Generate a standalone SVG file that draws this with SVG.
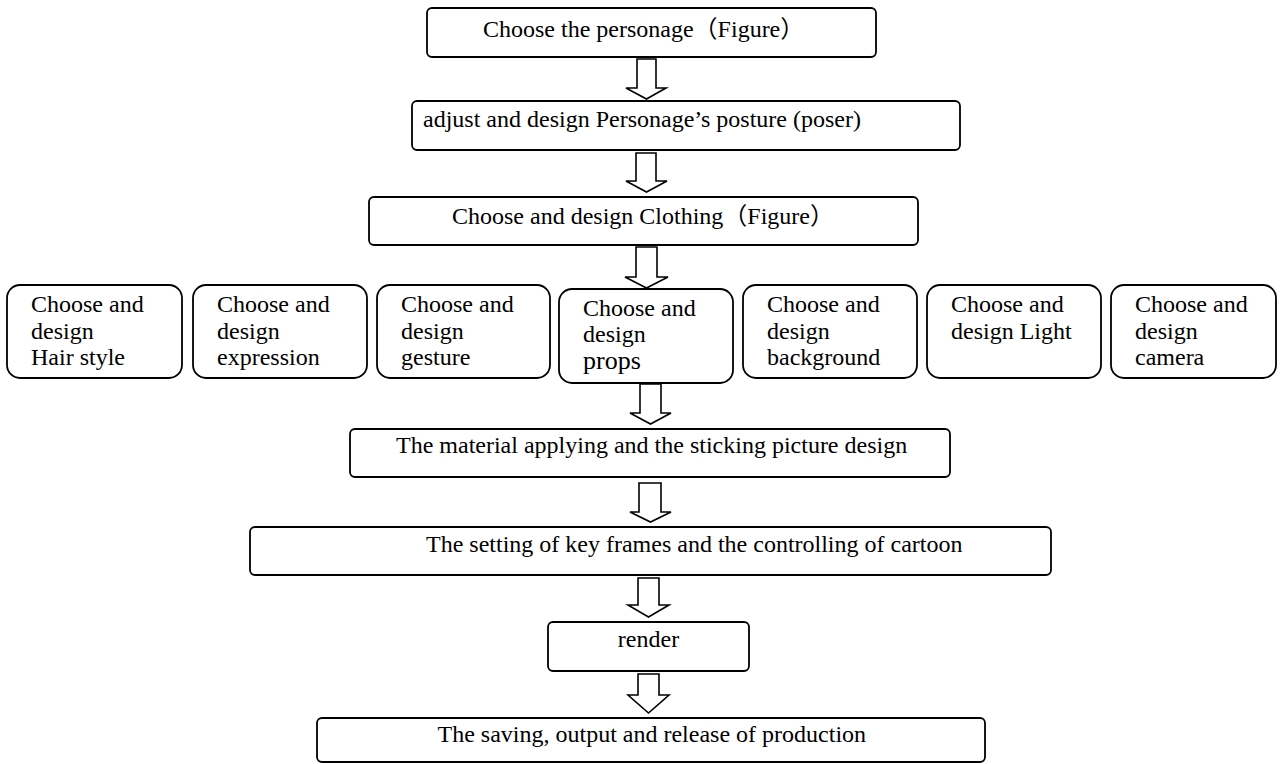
<svg xmlns="http://www.w3.org/2000/svg" width="1287" height="764" viewBox="0 0 1287 764">
<style>
  .box { fill: #ffffff; stroke: #000000; stroke-width: 1.8; }
  .arr { fill: #ffffff; stroke: #000000; stroke-width: 1.6; stroke-linejoin: miter; }
  text { font-family: "Liberation Serif", "Times New Roman", "DejaVu Serif", serif; font-size: 24px; fill: #000000; }
  .cjk { font-family: "Liberation Serif", "Noto Sans CJK SC", serif; }
</style>
<rect x="0" y="0" width="1287" height="764" fill="#ffffff"/>
<g id="connectors">
  <polygon class="arr" points="637,59 656,59 656,88 666,88 646.5,99 626,88 637,88"/>
  <polygon class="arr" points="636,153 656,153 656,181 667,181 646.5,192 626,181 636,181"/>
  <polygon class="arr" points="636,247 657,247 657,277 668,277 646.5,288 625,277 636,277"/>
  <polygon class="arr" points="640,384 661,384 661,413 671,413 650.5,424 630,413 640,413"/>
  <polygon class="arr" points="639,483 661,483 661,512 671,512 650.5,522 630,512 639,512"/>
  <polygon class="arr" points="638,578 659,578 659,605 669,605 648.5,617 628,605 638,605"/>
  <polygon class="arr" points="638,674 659,674 659,695 669,695 648.5,713 628,695 638,695"/>
</g>
<g id="n1">
  <rect class="box" x="427" y="8" width="449" height="49" rx="5"/>
  <text x="483" y="37">Choose the personage<tspan class="cjk">（</tspan>Figure<tspan class="cjk">）</tspan></text>
</g>
<g id="n2">
  <rect class="box" x="412" y="101" width="548" height="49" rx="5"/>
  <text x="423" y="127">adjust and design Personage’s posture (poser)</text>
</g>
<g id="n3">
  <rect class="box" x="369" y="197" width="549" height="48" rx="5"/>
  <text x="452" y="224">Choose and design Clothing<tspan class="cjk">（</tspan>Figure<tspan class="cjk">）</tspan></text>
</g>
<g id="r1">
  <rect class="box" x="7" y="285" width="175" height="93" rx="13"/>
  <text x="31" y="312">Choose and</text>
  <text x="31" y="338.5">design</text>
  <text x="31" y="365">Hair style</text>
</g>
<g id="r2">
  <rect class="box" x="193" y="285" width="174" height="93" rx="13"/>
  <text x="217" y="312">Choose and</text>
  <text x="217" y="338.5">design</text>
  <text x="217" y="365">expression</text>
</g>
<g id="r3">
  <rect class="box" x="377" y="285" width="173" height="93" rx="13"/>
  <text x="401" y="312">Choose and</text>
  <text x="401" y="338.5">design</text>
  <text x="401" y="365">gesture</text>
</g>
<g id="r4">
  <rect class="box" x="559" y="289" width="174" height="94" rx="13"/>
  <text x="583" y="315.5">Choose and</text>
  <text x="583" y="341.5">design</text>
  <text x="583" y="369" style="font-size:26px">props</text>
</g>
<g id="r5">
  <rect class="box" x="743" y="285" width="174" height="93" rx="13"/>
  <text x="767" y="312">Choose and</text>
  <text x="767" y="338.5">design</text>
  <text x="767" y="365">background</text>
</g>
<g id="r6">
  <rect class="box" x="927" y="285" width="174" height="93" rx="13"/>
  <text x="951" y="312">Choose and</text>
  <text x="951" y="338.5">design Light</text>
</g>
<g id="r7">
  <rect class="box" x="1111" y="285" width="165" height="93" rx="13"/>
  <text x="1135" y="312">Choose and</text>
  <text x="1135" y="338.5">design</text>
  <text x="1135" y="365">camera</text>
</g>
<g id="n4">
  <rect class="box" x="350" y="429" width="600" height="48" rx="5"/>
  <text x="396" y="453">The material applying and the sticking picture design</text>
</g>
<g id="n5">
  <rect class="box" x="250" y="527" width="801" height="48" rx="5"/>
  <text x="426" y="552">The setting of key frames and the controlling of cartoon</text>
</g>
<g id="n6">
  <rect class="box" x="548" y="622" width="201" height="49" rx="5"/>
  <text x="648.5" y="647" text-anchor="middle">render</text>
</g>
<g id="n7">
  <rect class="box" x="317" y="718" width="668" height="44" rx="5"/>
  <text x="437.5" y="742">The saving, output and release of production</text>
</g>
</svg>
